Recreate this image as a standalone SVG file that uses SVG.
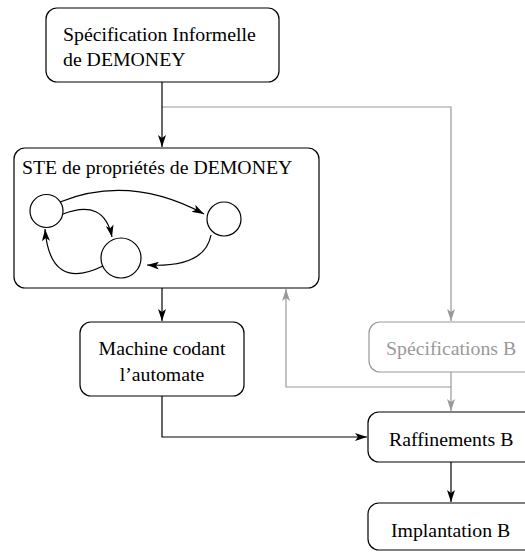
<svg xmlns="http://www.w3.org/2000/svg" width="525" height="552" viewBox="0 0 525 552">
  <style>
    .box { fill: #fff; stroke: #000; stroke-width: 1.2; }
    .gbox { fill: #fff; stroke: #999; stroke-width: 1.2; }
    text { font-family: 'Liberation Serif', 'Times New Roman', serif; font-size: 19.8px; }
    .lbl { fill: #000; }
    .glbl { fill: #999; }
    .ln { fill: none; stroke: #000; stroke-width: 1.2; }
    .gln { fill: none; stroke: #999; stroke-width: 1.2; }
    .st { fill: none; stroke: #000; stroke-width: 1.2; }
  </style>
  <defs>
    <marker id="ah" viewBox="0 0 12 8" refX="12" refY="4" markerWidth="12" markerHeight="8" markerUnits="userSpaceOnUse" orient="auto">
      <path d="M0,0 L12,4 L0,8 L3,4 Z" fill="#000"/>
    </marker>
    <marker id="gah" viewBox="0 0 12 8" refX="12" refY="4" markerWidth="12" markerHeight="8" markerUnits="userSpaceOnUse" orient="auto">
      <path d="M0,0 L12,4 L0,8 L3,4 Z" fill="#999"/>
    </marker>
  </defs>

  <!-- connectors -->
  <g id="connectors">
    <path class="gln" d="M162,107 H451 V321" marker-end="url(#gah)"/>
    <path class="gln" d="M451,372 V411" marker-end="url(#gah)"/>
    <path class="gln" d="M451,387 H286 V289" marker-end="url(#gah)"/>
    <path class="ln" d="M162,82 V147" marker-end="url(#ah)"/>
    <path class="ln" d="M162,288 V321" marker-end="url(#ah)"/>
    <path class="ln" d="M162,396 V437 H367" marker-end="url(#ah)"/>
    <path class="ln" d="M451,462 V502" marker-end="url(#ah)"/>
  </g>

  <g id="spec-informelle">
    <rect class="box" x="46" y="8" width="233" height="74" rx="11"/>
    <text class="lbl" x="63" y="41">Spécification Informelle</text>
    <text class="lbl" x="63" y="66">de DEMONEY</text>
  </g>

  <g id="ste">
    <rect class="box" x="14" y="148" width="305" height="140" rx="11"/>
    <text class="lbl" x="22" y="174">STE de propriétés de DEMONEY</text>
    <circle class="st" cx="46.5" cy="211" r="16.5"/>
    <circle class="st" cx="224" cy="219" r="17"/>
    <circle class="st" cx="121" cy="258" r="20"/>
    <path class="st" d="M60,202 Q130,174 204,214" marker-end="url(#ah)"/>
    <path class="st" d="M63,214 Q104,198 112,237" marker-end="url(#ah)"/>
    <path class="st" d="M103,266 Q50,292 45,229" marker-end="url(#ah)"/>
    <path class="st" d="M211,235 Q205,268 147,265" marker-end="url(#ah)"/>
  </g>

  <g id="machine">
    <rect class="box" x="80" y="322" width="164" height="74" rx="11"/>
    <text class="lbl" x="162" y="355" text-anchor="middle">Machine codant</text>
    <text class="lbl" x="162" y="381" text-anchor="middle">l’automate</text>
  </g>

  <g id="spec-b">
    <rect class="gbox" x="369" y="322" width="180" height="50" rx="11"/>
    <text class="glbl" x="386" y="355">Spécifications B</text>
  </g>

  <g id="raffinements">
    <rect class="box" x="368" y="412" width="180" height="50" rx="11"/>
    <text class="lbl" x="389" y="446">Raffinements B</text>
  </g>

  <g id="implantation">
    <rect class="box" x="368" y="503" width="180" height="47" rx="11"/>
    <text class="lbl" x="391" y="537">Implantation B</text>
  </g>
</svg>
